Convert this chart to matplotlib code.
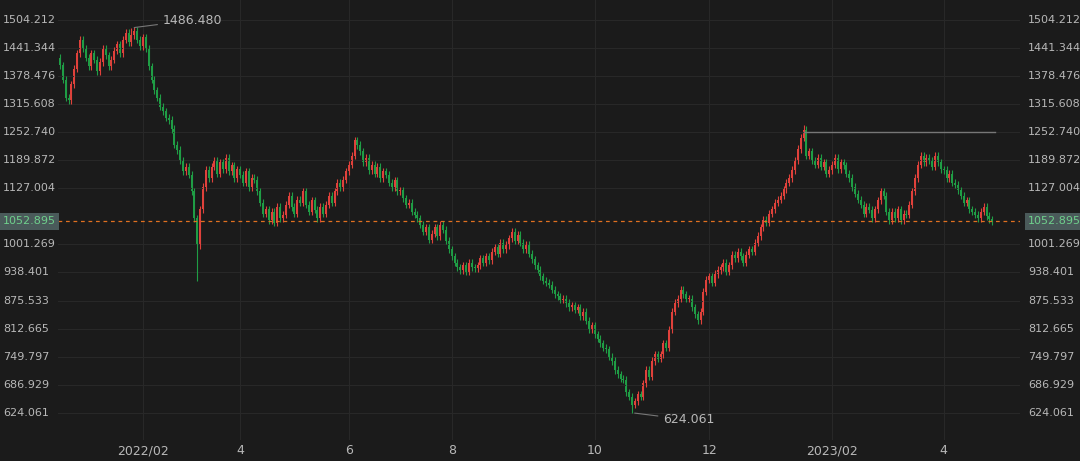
import matplotlib as mpl
mpl.use('Agg')
import matplotlib.pyplot as plt
import numpy as np

# daily closes
closes = [
    1403, 1370, 1330, 1325, 1360, 1395, 1430, 1460, 1440, 1420,
    1400, 1430, 1415, 1390, 1410, 1440, 1425, 1400, 1415, 1435,
    1450, 1430, 1460, 1475, 1455, 1470, 1480, 1460, 1445, 1465,
    1440, 1400, 1370, 1347, 1330, 1310, 1300, 1285, 1280, 1260,
    1225, 1213, 1190, 1165, 1175, 1157, 1120, 1060, 1000, 1080,
    1130, 1168, 1150, 1175, 1190, 1160, 1185, 1170, 1195, 1165,
    1179, 1150, 1170, 1157, 1140, 1165, 1130, 1150, 1146, 1120,
    1095, 1070, 1080, 1056, 1075, 1050, 1085, 1060, 1068, 1090,
    1110, 1085, 1070, 1101, 1095, 1120, 1090, 1075, 1100, 1079,
    1060, 1085, 1070, 1090, 1110, 1095, 1120, 1140, 1130, 1146,
    1165, 1180, 1200, 1235, 1224, 1210, 1185, 1195, 1168, 1180,
    1160, 1175, 1150, 1165, 1157, 1140, 1130, 1145, 1120, 1123,
    1105, 1090, 1095, 1075, 1068, 1060, 1045, 1030, 1040, 1012,
    1025, 1040, 1020, 1045, 1034, 1010, 990, 975, 960, 950,
    944, 955, 940, 960, 950, 948, 955, 970, 960, 975,
    966, 985, 995, 980, 1005, 990, 1000, 1015, 1030, 1010,
    1023, 1005, 990, 1000, 980, 968, 955, 945, 930, 920,
    915, 911, 900, 890, 885, 877, 880, 870, 860, 865,
    855, 860, 840, 850, 830, 810, 820, 800, 790, 780,
    770, 766, 750, 740, 720, 710, 700, 698, 670, 660,
    642, 650, 665, 660, 690, 720, 705, 740, 755, 745,
    755, 780, 770, 810, 850, 870, 880, 900, 890, 880,
    880, 860, 845, 832, 850, 895, 922, 930, 915, 935,
    944, 950, 960, 940, 955, 978, 970, 985, 975, 960,
    978, 990, 985, 1005, 1020, 1040, 1056, 1050, 1070, 1080,
    1095, 1101, 1110, 1125, 1140, 1150, 1168, 1190, 1215, 1240,
    1258, 1200, 1210, 1190, 1180, 1195, 1175, 1185, 1160, 1168,
    1180, 1195, 1170, 1185, 1179, 1160, 1150, 1130, 1115, 1101,
    1090, 1070, 1085, 1079, 1060, 1080, 1100, 1120, 1110, 1075,
    1056, 1075, 1060, 1080, 1055, 1070, 1068, 1090, 1120, 1150,
    1180, 1200, 1185, 1195, 1190, 1175, 1200, 1185, 1170, 1168,
    1150, 1160, 1140, 1135, 1123, 1110, 1095, 1100, 1080, 1075,
    1068, 1060, 1075, 1085, 1065, 1058, 1052.895,
]
first_open = 1420
# extreme wicks visible in the chart: index -> (high, low)
spikes = {25: (1486.480, None), 48: (None, 920), 200: (None, 624.061), 260: (1268, None)}

yticks = [624.061, 686.929, 749.797, 812.665, 875.533, 938.401, 1001.269,
          1127.004, 1189.872, 1252.740, 1315.608, 1378.476, 1441.344, 1504.212]
month_labels = ['2022/02', '4', '6', '8', '10', '12', '2023/02', '4']
month_idx = [29, 63, 101, 137, 187, 227, 270, 309]
last_price = 1052.895
resist = 1252.740

bg = '#1b1b1b'
up_c = '#e0413b'
dn_c = '#1f9d45'
txt = '#b8b8b8'

fig = plt.figure(figsize=(10.8, 4.61), dpi=100, facecolor=bg)
ax = fig.add_axes([58 / 1080, 21 / 461, 962 / 1080, 440 / 461], facecolor=bg)

opens = [first_open] + closes[:-1]
for i, (o, c) in enumerate(zip(opens, closes)):
    hi = max(o, c) + 8
    lo = min(o, c) - 8
    if i in spikes:
        h, l = spikes[i]
        hi = h if h else hi
        lo = l if l else lo
    col = up_c if c >= o else dn_c
    ax.vlines(i, lo, hi, color=col, lw=0.8)
    ax.bar(i, max(abs(c - o), 1.5), bottom=min(o, c), width=0.7, color=col, lw=0)

ax.set_xlim(-0.7, 335.7)
ax.set_ylim(563, 1549)
ax.set_yticks(yticks)
ax.set_yticklabels([])
ax.tick_params(axis='y', length=0)
ax.set_xticks(month_idx)
ax.set_xticklabels(month_labels)
ax.tick_params(axis='x', length=0, colors=txt, labelsize=9, pad=3)
ax.grid(True, color='#282828', lw=0.8)
for s in ax.spines.values():
    s.set_visible(False)

# y labels drawn as text so they sit inside the figure like the reference
ytr = ax.get_yaxis_transform()
for v in yticks:
    ax.text(-55 / 962, v, '%.3f' % v, transform=ytr, ha='left', va='center', color=txt, fontsize=8)
    ax.text(1.0 + 8 / 962, v, '%.3f' % v, transform=ytr, ha='left', va='center', color=txt, fontsize=8)

ax.axhline(last_price, color='#e07020', ls=(0, (3, 3)), lw=0.9)
for xa in [-55 / 962, 1.0 + 8 / 962]:
    ax.text(xa, last_price, '%.3f' % last_price, transform=ytr,
            ha='left', va='center', color='#6fd08c', fontsize=8,
            bbox=dict(boxstyle='square,pad=0.3', fc='#4a5a5a', ec='none'))

ax.plot([260, 327], [resist, resist], color='#777777', lw=1)
ax.annotate('%.3f' % 1486.480, xy=(25, 1486.48), xytext=(36, 1504), color=txt, fontsize=9,
            va='center', arrowprops=dict(arrowstyle='-', color='#777777', lw=0.8))
ax.annotate('%.3f' % 624.061, xy=(200, 624.061), xytext=(211, 608), color=txt, fontsize=9,
            va='center', arrowprops=dict(arrowstyle='-', color='#777777', lw=0.8))

fig.savefig('out.png', facecolor=bg)
